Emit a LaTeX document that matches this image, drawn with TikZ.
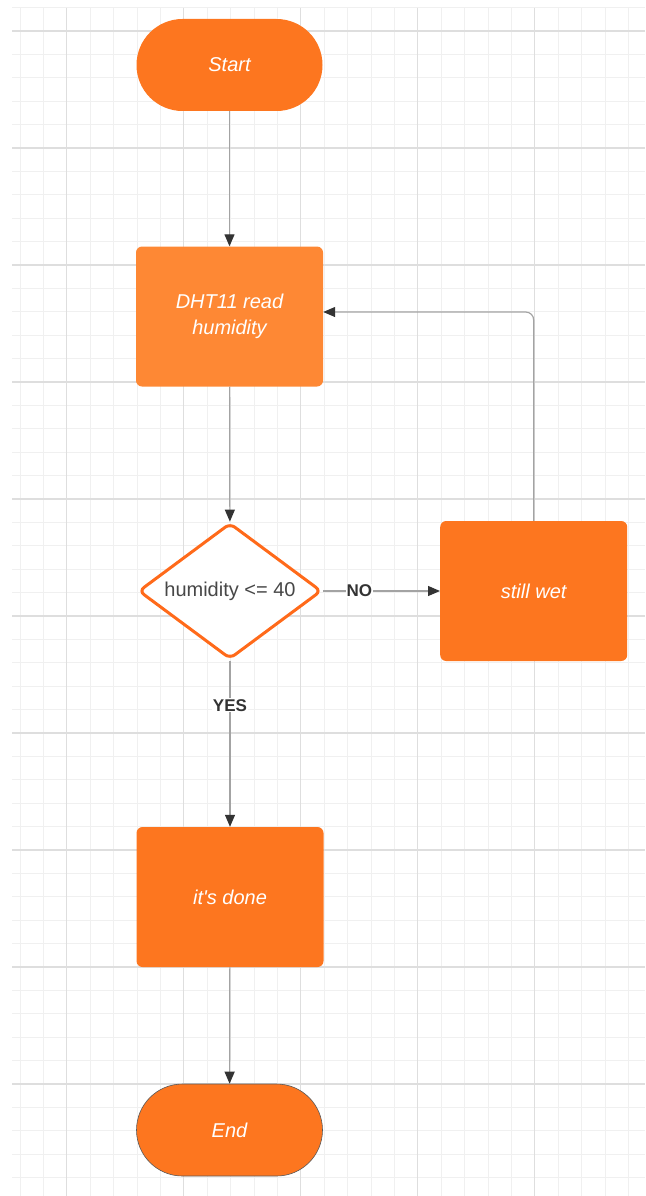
\documentclass[tikz,border=0pt]{standalone}
\usepackage{fontspec}
\setmainfont{Liberation Sans}
\usetikzlibrary{shapes.geometric,arrows.meta}

\definecolor{flowOrange}{HTML}{FD761F}
\definecolor{readOrange}{HTML}{FE8834}
\definecolor{decOrange}{HTML}{FF6A1A}
\definecolor{gridMinor}{HTML}{F0F0F0}
\definecolor{gridMajor}{HTML}{DEDEDE}
\definecolor{lineGray}{HTML}{A3A3A3}
\definecolor{tipGray}{HTML}{333333}

\begin{document}
\begin{tikzpicture}[x=1pt, y=-1pt,
  terminal/.style={rectangle, rounded corners=46pt, fill=flowOrange, minimum width=186pt, minimum height=92pt, text=white, font=\fontsize{20}{26}\selectfont\itshape},
  process/.style={rectangle, rounded corners=6pt, fill=flowOrange, minimum width=187pt, minimum height=140pt, text=white, align=center, font=\fontsize{20}{26}\selectfont\itshape},
  decision/.style={diamond, aspect=1.35, draw=decOrange, line width=3pt, fill=white, rounded corners=6pt, minimum width=183pt, minimum height=136pt, inner sep=0pt, text=black!72, font=\fontsize{20}{24}\selectfont},
  flow/.style={draw=lineGray, line width=1.2pt, -{Triangle[length=12pt,width=10pt,color=tipGray]}},
  answer/.style={fill=white, inner sep=1pt, text=tipGray, font=\fontsize{17}{20}\selectfont\bfseries}]
	% Page size
	\useasboundingbox (0,0) rectangle (645,1196);

	% Draw grid
	\foreach \k in {0,...,26}
		\draw[gridMinor, line width=1pt] ({20+23.4*\k},7.6) -- ({20+23.4*\k},1196);
	\foreach \k in {0,...,50}
		\draw[gridMinor, line width=1pt] (12,{7.6+23.4*\k}) -- (645,{7.6+23.4*\k});
	\foreach \m in {0,...,4}
		\draw[gridMajor, line width=1.2pt] ({66.8+117*\m},7.6) -- ({66.8+117*\m},1196);
	\foreach \m in {0,...,9}
		\draw[gridMajor, line width=1.2pt] (12,{31+117*\m}) -- (645,{31+117*\m});

	% Draw shapes
	\node[terminal] (start) at (229.5,65) {Start};
	\node[process, fill=readOrange] (dht) at (229.5,316.5) {DHT11 read\\humidity};
	\node[decision] (check) at (230,591) {humidity <= 40};
	\node[process] (wet) at (533.7,591) {still wet};
	\node[process] (done) at (230,897) {it\textquotesingle s done};
	\node[terminal, draw=black!65, line width=0.6pt] (finish) at (229.5,1130) {End};

	% Draw connectors
	\draw[flow] (start) -- (dht);
	\draw[flow] (dht) -- (check);
	\draw[flow] (check) -- node[answer, pos=0.31] {NO} (wet);
	\draw[flow] (check) -- node[answer, pos=0.27] {YES} (done);
	\draw[flow, rounded corners=8pt] (wet.north) |- ([yshift=4.5pt]dht.east);
	\draw[flow] (done) -- (finish);

\end{tikzpicture}
\end{document}
